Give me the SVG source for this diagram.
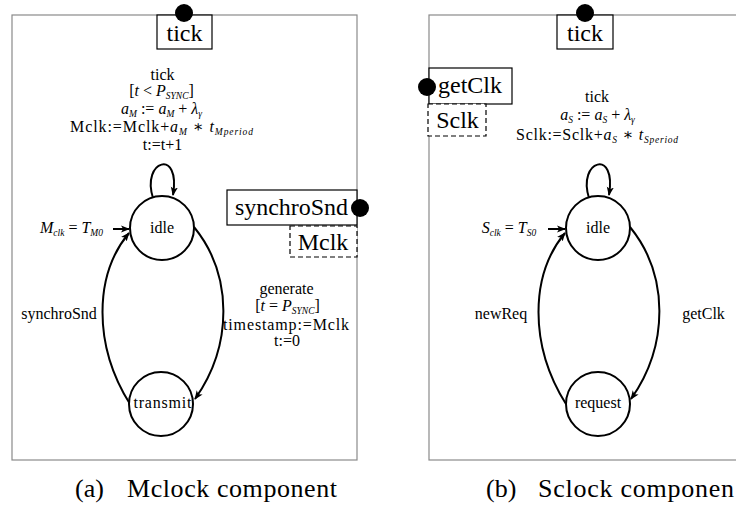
<svg xmlns="http://www.w3.org/2000/svg" width="736" height="506" viewBox="0 0 736 506" font-family="'Liberation Serif', 'DejaVu Serif', 'Times New Roman', serif">
<style>
text{font-family:'Liberation Serif','DejaVu Serif','Times New Roman',serif;fill:#000}
.lbl{font-size:16px;text-anchor:middle}
.st{font-size:16px;text-anchor:middle}
.box{font-size:24px;text-anchor:middle}
.cap{font-size:26px}
.i{font-style:italic}
.sb{font-size:9.5px;font-style:italic}
.frame{fill:#fff;stroke:#8a8a8a;stroke-width:1.2}
.state{fill:#fff;stroke:#000;stroke-width:2}
.port{fill:#fff;stroke:#000;stroke-width:1.2}
.dash{fill:#fff;stroke:#000;stroke-width:1.2;stroke-dasharray:5 3}
.edge{fill:none;stroke:#000;stroke-width:2;marker-end:url(#ah)}
</style>
<defs>
<marker id="ah" viewBox="0 0 10 8" refX="9" refY="4" markerWidth="9" markerHeight="8" markerUnits="userSpaceOnUse" orient="auto">
<path d="M0,0 L10,4 L0,8 L2.5,4 z" fill="#000"/>
</marker>
</defs>
<rect width="736" height="506" fill="#fff"/>

<g id="mclock">
<rect class="frame" x="12" y="15" width="345" height="445"/>
</g>
<g id="sclock">
<rect class="frame" x="429" y="15" width="400" height="445"/>
</g>

<g id="connectors">
<path class="edge" d="M153,198 C141,160 181,148 173,195"/>
<line class="edge" x1="113" y1="229" x2="129" y2="229"/>
<path class="edge" d="M130,404 C93,345 94,275 129,233"/>
<path class="edge" d="M194,227 C233,275 233,345 195,399"/>
<path class="edge" d="M589,198 C577,160 617,148 609,195"/>
<line class="edge" x1="548" y1="229" x2="565" y2="229"/>
<path class="edge" d="M566,404 C529,345 530,275 565,233"/>
<path class="edge" d="M630,227 C669,275 669,345 631,399"/>
</g>

<g id="mclock-tick-port">
<rect class="port" x="157" y="15" width="55" height="34"/>
<circle cx="184" cy="13" r="9" fill="#000"/>
<text class="box" x="184.5" y="41">tick</text>
</g>
<g id="mclock-synchroSnd-port">
<rect class="port" x="227" y="190" width="130" height="35"/>
<circle cx="360" cy="208" r="9" fill="#000"/>
<text class="box" x="291.5" y="215" textLength="113">synchroSnd</text>
</g>
<g id="mclock-Mclk-var">
<rect class="dash" x="290" y="226" width="67" height="31"/>
<text class="box" x="323" y="250">Mclk</text>
</g>

<g id="mclock-idle">
<circle class="state" cx="162" cy="228" r="32"/>
<text class="st" x="162" y="233">idle</text>
</g>
<g id="mclock-transmit">
<circle class="state" cx="161" cy="404" r="32"/>
<text class="st" x="162.5" y="408" textLength="58">transmit</text>
</g>

<g id="mclock-labels">
<text class="lbl" x="162.5" y="80">tick</text>
<text class="lbl" x="161.5" y="96">[<tspan class="i">t</tspan> &lt; <tspan class="i">P</tspan><tspan class="sb" dy="3">SYNC</tspan><tspan dy="-3">]</tspan></text>
<text class="lbl" x="161.5" y="114"><tspan class="i">a</tspan><tspan class="sb" dy="3">M</tspan><tspan dy="-3"> := </tspan><tspan class="i">a</tspan><tspan class="sb" dy="3">M</tspan><tspan dy="-3"> + </tspan><tspan class="i">λ</tspan><tspan class="sb" dy="3">γ</tspan></text>
<text class="lbl" x="161.5" y="132" textLength="183">Mclk:=Mclk+<tspan class="i">a</tspan><tspan class="sb" dy="3">M</tspan><tspan dy="-3"> ∗ </tspan><tspan class="i">t</tspan><tspan class="sb" dy="3">Mperiod</tspan></text>
<text class="lbl" x="162.5" y="150">t:=t+1</text>
<text class="lbl" x="71.5" y="233"><tspan class="i">M</tspan><tspan class="sb" dy="3">clk</tspan><tspan dy="-3"> = </tspan><tspan class="i">T</tspan><tspan class="sb" dy="3">M0</tspan></text>
<text class="lbl" x="59" y="319">synchroSnd</text>
<text class="lbl" x="286.5" y="294">generate</text>
<text class="lbl" x="287.5" y="311">[<tspan class="i">t</tspan> = <tspan class="i">P</tspan><tspan class="sb" dy="3">SYNC</tspan><tspan dy="-3">]</tspan></text>
<text class="lbl" x="286" y="330" textLength="126">timestamp:=Mclk</text>
<text class="lbl" x="287" y="346">t:=0</text>
</g>

<g id="sclock-tick-port">
<rect class="port" x="557" y="15" width="56" height="34"/>
<circle cx="585" cy="13" r="9" fill="#000"/>
<text class="box" x="585" y="41">tick</text>
</g>
<g id="sclock-getClk-port">
<rect class="port" x="429" y="68" width="83" height="36"/>
<circle cx="427" cy="87" r="9" fill="#000"/>
<text class="box" x="470" y="93">getClk</text>
</g>
<g id="sclock-Sclk-var">
<rect class="dash" x="428" y="104" width="58" height="32"/>
<text class="box" x="457.5" y="128">Sclk</text>
</g>

<g id="sclock-idle">
<circle class="state" cx="598" cy="228" r="32"/>
<text class="st" x="598" y="233">idle</text>
</g>
<g id="sclock-request">
<circle class="state" cx="598" cy="404" r="32"/>
<text class="st" x="598" y="408">request</text>
</g>

<g id="sclock-labels">
<text class="lbl" x="597" y="102">tick</text>
<text class="lbl" x="597.5" y="120"><tspan class="i">a</tspan><tspan class="sb" dy="2.5">S</tspan><tspan dy="-2.5"> := </tspan><tspan class="i">a</tspan><tspan class="sb" dy="2.5">S</tspan><tspan dy="-2.5"> + </tspan><tspan class="i">λ</tspan><tspan class="sb" dy="2.5">γ</tspan></text>
<text class="lbl" x="597" y="140" textLength="162">Sclk:=Sclk+<tspan class="i">a</tspan><tspan class="sb" dy="3">S</tspan><tspan dy="-3"> ∗ </tspan><tspan class="i">t</tspan><tspan class="sb" dy="3">Speriod</tspan></text>
<text class="lbl" x="509" y="233"><tspan class="i">S</tspan><tspan class="sb" dy="3">clk</tspan><tspan dy="-3"> = </tspan><tspan class="i">T</tspan><tspan class="sb" dy="3">S0</tspan></text>
<text class="lbl" x="501" y="319">newReq</text>
<text class="lbl" x="703.5" y="319">getClk</text>
</g>

<g id="captions">
<text class="cap" x="75" y="497"><tspan>(a)</tspan><tspan x="127" textLength="210">Mclock component</tspan></text>
<text class="cap" x="486" y="497"><tspan>(b)</tspan><tspan x="538" textLength="196">Sclock componen</tspan></text>
</g>
</svg>
